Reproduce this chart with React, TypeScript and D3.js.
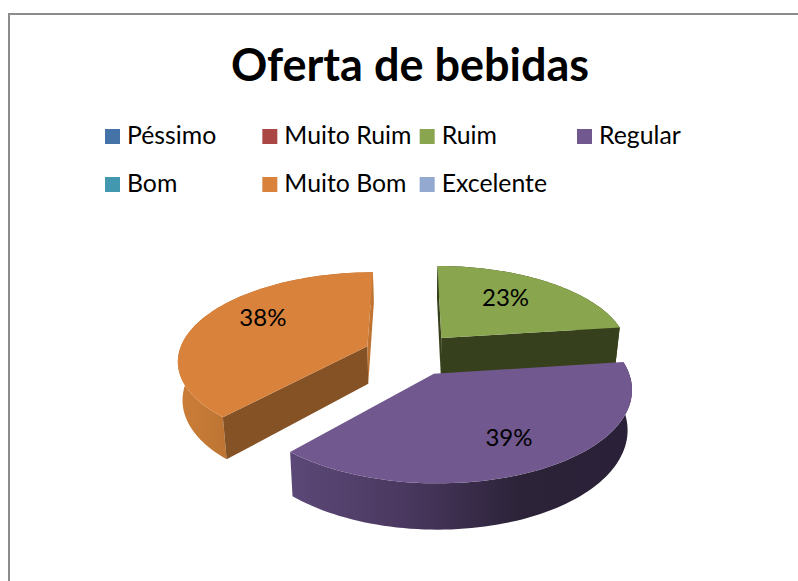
import React from "react";
import * as d3 from "d3";

const W = 798, H = 581;
const categories = ["Péssimo", "Muito Ruim", "Ruim", "Regular", "Bom", "Muito Bom", "Excelente"];
const values = [0, 0, 22.9, 38.7, 0, 38.4, 0];
const colors = ["#4572a7", "#aa4643", "#89a54e", "#71588f", "#4198af", "#d9823c", "#93a9cf"];
const title = "Oferta de bebidas";

// per-category shading of the 3D faces (null: the face is hidden)
const startFace: Record<string, string | null> = { Ruim: "#37401c", Regular: null, "Muito Bom": "#855226" };
const endFace: Record<string, string | null> = { Ruim: "#37401c", Regular: null, "Muito Bom": "#c07433" };
const rimStops: Record<string, string[]> = {
  Ruim: ["#37401c", "#37401c"],
  Regular: ["#5c4877", "#4a3860", "#2c2339", "#2a2138"],
  "Muito Bom": ["#cc7e38", "#b87232", "#b87232", "#b87232"],
};
const labelAngleNudge: Record<string, number> = { Ruim: -5, Regular: -0.6, "Muito Bom": 9.9 };
const labelRadius: Record<string, number> = { Ruim: 0.657, Regular: 0.707, "Muito Bom": 0.7 };

// projection parameters
const cx = 411, cy = 354, R = 189, Ry = 87, persp = 0.1465, explode = 0.25, depth = 38, baseShrink = 0.98;

function project(angle: number, r: number, mid: number, down = 0): [number, number] {
  const u = r * Math.sin(angle) + explode * Math.sin(mid);
  const v = r * Math.cos(angle) + explode * Math.cos(mid);
  const s = 1 / (1 + persp * v);
  const k = down ? baseShrink : 1;
  return [cx + R * u * s * k, cy - Ry * v * s + down * s];
}
const line = d3.line();

const pie = d3.pie<number>().sort(null).value((d) => d);
const arcs = pie(values);
const xLegend = d3.scalePoint<number>().domain([0, 1, 2, 3]).range([105, 577]);
const yLegend = d3.scalePoint<number>().domain([0, 1]).range([129, 177]);

function arcPoints(a: number, b: number, mid: number, down = 0) {
  return d3.range(0, 81).map((i) => project(a + ((b - a) * i) / 80, 1, mid, down));
}

export default function App() {
  const drawOrder = [2, 5, 3];
  return (
    <svg width={W} height={H} style={{ position: "fixed", left: 0, top: 0, background: "#fff" }}
      fontFamily="Lato, 'Open Sans', sans-serif">
      <defs>
        {drawOrder.map((i) => {
          const stops = rimStops[categories[i]];
          const xs = arcPoints(arcs[i].startAngle, arcs[i].endAngle, (arcs[i].startAngle + arcs[i].endAngle) / 2).map((p) => p[0]);
          return (
            <linearGradient key={i} id={`rim${i}`} gradientUnits="userSpaceOnUse"
              x1={d3.min(xs)} x2={d3.max(xs)} y1={0} y2={0}>
              {stops.map((c, j) => (
                <stop key={j} offset={j / (stops.length - 1)} stopColor={c} />
              ))}
            </linearGradient>
          );
        })}
      </defs>
      <path d={`M9,${H}V14H${W}`} fill="none" stroke="#8c8c8c" strokeWidth={2} />
      <text x={410} y={81} textAnchor="middle" fontSize={45} fontWeight={700} fill="#000">{title}</text>
      {categories.map((c, i) => {
        const x = xLegend(i % 4)!, y = yLegend(Math.floor(i / 4))!;
        return (
          <g key={c}>
            <rect x={x} y={y} width={15} height={15} fill={colors[i]} />
            <text x={x + 22} y={y + 15} fontSize={24.8} fill="#000">{c}</text>
          </g>
        );
      })}
      {drawOrder.map((i) => {
        const a = arcs[i];
        const mid = (a.startAngle + a.endAngle) / 2;
        const top = arcPoints(a.startAngle, a.endAngle, mid);
        const bottom = arcPoints(a.startAngle, a.endAngle, mid, depth);
        const apex = project(0, 0, mid);
        const apexB = project(0, 0, mid, depth);
        const cat = categories[i];
        const cutA = [apex, top[0], bottom[0], apexB] as [number, number][];
        const cutB = [apex, top[80], bottom[80], apexB] as [number, number][];
        return (
          <g key={cat}>
            <path d={line([...top, ...bottom.slice().reverse()])! + "Z"} fill={`url(#rim${i})`} />
            {startFace[cat] && <path d={line(cutA)! + "Z"} fill={startFace[cat]!} />}
            {endFace[cat] && <path d={line(cutB)! + "Z"} fill={endFace[cat]!} />}
            <path d={line([apex, ...top])! + "Z"} fill={colors[i]} />
          </g>
        );
      })}
      {drawOrder.map((i) => {
        const a = arcs[i];
        const mid = (a.startAngle + a.endAngle) / 2;
        const cat = categories[i];
        const [x, y] = project(mid + (labelAngleNudge[cat] * Math.PI) / 180, labelRadius[cat], mid);
        return (
          <text key={cat} x={x} y={y} dy="0.35em" textAnchor="middle" fontSize={24} fill="#000">
            {`${Math.round(values[i])}%`}
          </text>
        );
      })}
    </svg>
  );
}
